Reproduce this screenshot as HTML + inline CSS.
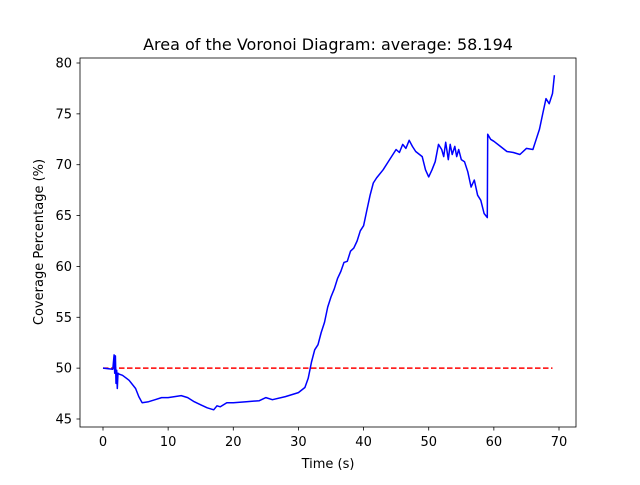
<!DOCTYPE html>
<html><head><meta charset="utf-8"><style>
body{margin:0;background:#fff;font-family:"Liberation Sans","DejaVu Sans",sans-serif}
svg text{font-family:"DejaVu Sans","Liberation Sans",sans-serif}
</style></head><body>
<svg id="chart" width="640" height="480">
<rect width="640" height="480" fill="#fff"/>
<text x="328" y="50" text-anchor="middle" font-size="16">Area of the Voronoi Diagram: average: 58.194</text>
<g id="xt"></g><g id="yt"></g>
<path id="ref" fill="none" stroke="#ff0000" stroke-width="1.5" stroke-dasharray="5.5,2.5"/>
<path id="line" fill="none" stroke="#0000ff" stroke-width="1.5" stroke-linejoin="round"/>
<rect x="80" y="58" width="496" height="369" fill="none" stroke="#000" stroke-width="0.8"/>
<text x="328" y="468" text-anchor="middle" font-size="13">Time (s)</text>
<text transform="translate(43,242) rotate(-90)" text-anchor="middle" font-size="13">Coverage Percentage (%)</text>
</svg>
<script>
const times=[0,1.5,1.7,1.8,1.9,2,2.1,2.2,2.3,2.5,3,4,5,5.5,6,7,8,9,10,11,12,13,14,15,16,17,17.5,18,19,20,22,24,25,26,28,30,31,31.5,32,32.5,33,33.5,34,34.5,35,35.5,36,36.5,37,37.5,38,38.5,39,39.5,40,40.5,41,41.5,42,43,44,45,45.5,46,46.5,47,47.5,48,49,49.5,50,50.5,51,51.5,52,52.3,52.6,53,53.3,53.6,54,54.3,54.6,55,55.5,56,56.5,57,57.5,58,58.5,59,59.05,59.5,60,61,62,63,64,65,66,66.5,67,67.5,68,68.5,69,69.3];
const values=[50,49.9,51.3,49.5,51.2,48.5,49.8,48,49.5,49.4,49.3,48.8,48,47.2,46.6,46.7,46.9,47.1,47.1,47.2,47.3,47.1,46.7,46.4,46.1,45.9,46.3,46.2,46.6,46.6,46.7,46.8,47.1,46.9,47.2,47.6,48.1,49,50.6,51.8,52.3,53.5,54.5,56,57,57.8,58.8,59.5,60.4,60.5,61.5,61.8,62.5,63.5,64,65.5,67,68.2,68.7,69.5,70.5,71.5,71.2,72,71.6,72.4,71.8,71.3,70.8,69.5,68.8,69.5,70.3,72,71.5,70.8,72.2,70.5,72,71,71.8,70.8,71.5,70.5,70.3,69.3,67.8,68.5,67,66.5,65.2,64.8,73,72.5,72.3,71.8,71.3,71.2,71,71.6,71.5,72.5,73.5,75,76.5,76,77,78.8,79];
const xTicks=[0,10,20,30,40,50,60,70];
const yTicks=[45,50,55,60,65,70,75,80];
const refValue=50;
const X=t=>103+t*(559-103)/70;
const Y=v=>419-(v-45)*(419-63)/35;
const ns="http://www.w3.org/2000/svg";
let d="";times.forEach((t,i)=>{d+=(i?"L":"M")+X(t).toFixed(1)+","+Y(values[i]).toFixed(1);});
document.getElementById('line').setAttribute('d',d);
document.getElementById('ref').setAttribute('d',"M"+X(0)+","+Y(refValue)+"L"+X(69)+","+Y(refValue));
const xt=document.getElementById('xt');
xTicks.forEach(t=>{const l=document.createElementNS(ns,'line');l.setAttribute('x1',X(t));l.setAttribute('x2',X(t));l.setAttribute('y1',427);l.setAttribute('y2',430.5);l.setAttribute('stroke','#000');l.setAttribute('stroke-width','0.8');


xt.appendChild(l);
const tx=document.createElementNS(ns,'text');tx.setAttribute('x',X(t));tx.setAttribute('y',446);tx.setAttribute('text-anchor','middle');tx.setAttribute('font-size','13');tx.textContent=t;


xt.appendChild(tx);});
const yt=document.getElementById('yt');
yTicks.forEach(v=>{const l=document.createElementNS(ns,'line');l.setAttribute('x1',76.5);l.setAttribute('x2',80);l.setAttribute('y1',Y(v));l.setAttribute('y2',Y(v));l.setAttribute('stroke','#000');l.setAttribute('stroke-width','0.8');


yt.appendChild(l);
const tx=document.createElementNS(ns,'text');tx.setAttribute('x',72);tx.setAttribute('y',Y(v)+4.5);tx.setAttribute('text-anchor','end');tx.setAttribute('font-size','13');tx.textContent=v;


yt.appendChild(tx);});
</script>
</body></html>
